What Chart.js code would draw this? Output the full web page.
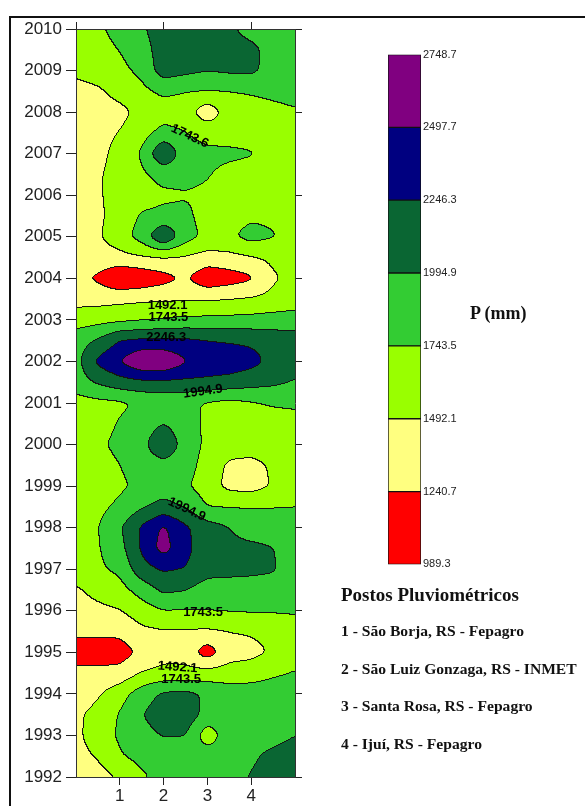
<html>
<head>
<script src="https://cdn.jsdelivr.net/npm/chart.js@4.4.0/dist/chart.umd.min.js"></script>
<style>
    body {
        margin: 0px;
        background: #ffffff;
        width: 585px;
        height: 806px;
        overflow: hidden;
        position: relative;
    }

    #main {
        position: absolute;
        left: 0px;
        top: 0px;
    }

    #scale {
        position: absolute;
        left: 388px;
        top: 46px;
    }

    .frame {
        position: absolute;
        left: 9px;
        top: 16px;
        width: 640px;
        height: 840px;
        border-left: 2px solid #111;
        border-top: 2px solid #111;
    }

    .txt {
        position: absolute;
        font-family: 'Liberation Serif', 'Times New Roman', serif;
        font-weight: bold;
        color: #111;
        white-space: nowrap;
        line-height: 1;
    }
</style>
</head>
<body>
<canvas id="main" width="585" height="806"></canvas>
<canvas id="scale" width="80" height="527"></canvas>
<div class="frame"></div>
<div id="legend"></div>
<script>
// station axis (x) and year axis (y)
const stationTicks = [1, 2, 3, 4]
const topTicks = [0, 2, 4]
const yearTicks = [1992, 1993, 1994, 1995, 1996, 1997, 1998, 1999, 2000, 2001, 2002, 2003, 2004, 2005, 2006, 2007, 2008, 2009, 2010]
const evenYearTicks = [1992, 1994, 1996, 1998, 2000, 2002, 2004, 2006, 2008, 2010]
const stationNames = ['São Borja, RS - Fepagro', 'São Luiz Gonzaga, RS - INMET', 'Santa Rosa, RS - Fepagro', 'Ijuí, RS - Fepagro']

// contour classes (mm)
const levels = [989.3, 1240.7, 1492.1, 1743.5, 1994.9, 2246.3, 2497.7, 2748.7]
const bandColors = ['#FF0000', '#FFFF80', '#99FF00', '#33CC33', '#0A6633', '#000080', '#800080']

// grid: columns at gridX, rows at gridYears (top to bottom)
const gridX = [0, 0.5, 1, 1.5, 2, 2.5, 3, 3.5, 4, 4.5, 5]
const gridYears = [2010, 2009.5, 2009, 2008.5, 2008, 2007.5, 2007, 2006.5, 2006, 2005.5, 2005, 2004.5, 2004, 2003.5, 2003, 2002.5, 2002, 2001.5, 2001,
    2000.5, 2000, 1999.5, 1999, 1998.5, 1998, 1997.5, 1997, 1996.5, 1996, 1995.5, 1995, 1994.5, 1994, 1993.5, 1993, 1992.5, 1992]
const precip = [
    [1600, 1700, 1830, 1960, 2120, 2130, 2120, 2040, 1900, 1869, 1869], // 2010
    [1600, 1650, 1750, 1880, 2120, 2150, 2120, 2100, 2060, 1900, 1869],
    [1550, 1620, 1680, 1800, 2120, 2060, 2010, 2040, 2050, 1900, 1850], // 2009
    [1400, 1450, 1580, 1680, 1800, 1755, 1743, 1745, 1770, 1800, 1830],
    [1350, 1380, 1420, 1560, 1620, 1600, 1330, 1600, 1640, 1680, 1720], // 2008
    [1380, 1420, 1500, 1640, 1830, 1750, 1650, 1640, 1640, 1650, 1650],
    [1400, 1430, 1560, 1770, 2250, 1850, 1800, 1790, 1760, 1700, 1680], // 2007
    [1420, 1470, 1560, 1700, 1830, 1820, 1760, 1680, 1650, 1650, 1650],
    [1420, 1470, 1560, 1640, 1700, 1725, 1700, 1650, 1640, 1640, 1640], // 2006
    [1420, 1450, 1580, 1770, 1800, 1800, 1650, 1650, 1700, 1700, 1650],
    [1400, 1460, 1620, 1850, 2250, 1850, 1680, 1700, 1830, 1760, 1680], // 2005
    [1380, 1400, 1420, 1470, 1500, 1470, 1400, 1420, 1480, 1540, 1580],
    [1300, 1200, 1000, 1050, 1150, 1270, 1050, 1120, 1200, 1460, 1560], // 2004
    [1400, 1400, 1420, 1440, 1450, 1460, 1460, 1480, 1510, 1560, 1600],
    [1620, 1650, 1680, 1720, 1760, 1790, 1800, 1810, 1820, 1840, 1860], // 2003
    [1880, 2020, 2250, 2290, 2290, 2290, 2250, 2220, 2200, 2150, 2100],
    [1900, 2300, 2500, 2750, 2750, 2520, 2420, 2400, 2330, 2180, 2080], // 2002
    [1870, 2030, 2150, 2200, 2210, 2200, 2190, 2160, 2100, 2050, 1980],
    [1650, 1680, 1700, 1780, 1800, 1800, 1720, 1680, 1720, 1770, 1790], // 2001
    [1620, 1650, 1760, 1850, 1990, 1850, 1700, 1650, 1640, 1640, 1650],
    [1620, 1700, 1800, 1900, 2250, 1870, 1700, 1620, 1600, 1600, 1620], // 2000
    [1620, 1650, 1740, 1850, 1900, 1850, 1650, 1450, 1430, 1520, 1620],
    [1620, 1640, 1700, 1800, 1870, 1780, 1620, 1420, 1390, 1510, 1630], // 1999
    [1620, 1680, 1790, 1960, 2080, 1980, 1740, 1730, 1730, 1735, 1740],
    [1620, 1730, 1960, 2280, 2540, 2290, 2100, 2000, 1880, 1870, 1870], // 1998
    [1620, 1720, 1900, 2280, 2600, 2320, 2100, 2050, 2050, 2000, 1900],
    [1620, 1700, 1800, 2150, 2280, 2240, 2100, 2080, 2060, 2020, 1880], // 1997
    [1460, 1560, 1650, 1850, 2050, 2010, 1870, 1870, 1870, 1880, 1870],
    [1400, 1440, 1480, 1620, 1740, 1735, 1745, 1760, 1770, 1770, 1780], // 1996
    [1300, 1300, 1300, 1440, 1470, 1470, 1460, 1495, 1520, 1560, 1600],
    [1120, 1120, 1120, 1290, 1400, 1380, 1100, 1380, 1420, 1520, 1600], // 1995
    [1300, 1300, 1320, 1500, 1560, 1570, 1580, 1600, 1620, 1700, 1760],
    [1380, 1460, 1640, 1870, 2030, 2060, 1960, 1870, 1870, 1880, 1880], // 1994
    [1450, 1560, 1760, 1980, 2150, 2170, 1900, 1870, 1870, 1870, 1870],
    [1440, 1600, 1780, 1900, 2010, 2000, 1600, 1870, 1880, 1900, 1990], // 1993
    [1420, 1510, 1720, 1820, 1869, 1869, 1869, 1869, 1950, 2060, 2120],
    [1380, 1400, 1510, 1700, 1830, 1869, 1869, 1900, 2010, 2120, 2150]  // 1992
]

// contour labels (station, year, angle)
const contourLabels = [
    { text: '1743.6', x: 2.6, y: 2007.42, rot: 25 },
    { text: '1492.1', x: 2.09, y: 2003.35, rot: 0 },
    { text: '1743.5', x: 2.11, y: 2003.07, rot: 0 },
    { text: '2246.3', x: 2.06, y: 2002.58, rot: 0 },
    { text: '1994.9', x: 2.9, y: 2001.28, rot: -8 },
    { text: '1994.9', x: 2.53, y: 1998.44, rot: 25 },
    { text: '1743.5', x: 2.9, y: 1995.96, rot: 0 },
    { text: '1492.1', x: 2.32, y: 1994.64, rot: 4 },
    { text: '1743.5', x: 2.4, y: 1994.36, rot: 0 }
]

const tickFont = "'Liberation Sans', Arial, sans-serif"

function hexRgb(h) {
    return [parseInt(h.slice(1, 3), 16), parseInt(h.slice(3, 5), 16), parseInt(h.slice(5, 7), 16)]
}

function boxBlur(src, w, h, r) {
    const tmp = new Float32Array(w * h)
    const out = new Float32Array(w * h)
    for (let j = 0; j < h; j++) {
        for (let i = 0; i < w; i++) {
            let s = 0
            for (let k = -r; k <= r; k++) {
                const ii = Math.min(w - 1, Math.max(0, i + k))
                s += src[j * w + ii]
            }
            tmp[j * w + i] = s / (2 * r + 1)
        }
    }
    for (let j = 0; j < h; j++) {
        for (let i = 0; i < w; i++) {
            let s = 0
            for (let k = -r; k <= r; k++) {
                const jj = Math.min(h - 1, Math.max(0, j + k))
                s += tmp[jj * w + i]
            }
            out[j * w + i] = s / (2 * r + 1)
        }
    }
    return out
}

// filled contour field drawn under the axes
const fieldPlugin = {
    id: 'field',
    beforeDraw(chart) {
        const { ctx, chartArea: a, scales } = chart
        const sx = scales.x
        const sy = scales.y
        const left = Math.round(a.left)
        const top = Math.round(a.top)
        const w = Math.round(a.right) - left
        const h = Math.round(a.bottom) - top
        const nx = gridX.length
        const ny = gridYears.length
        const dx = gridX[1] - gridX[0]
        const dy = gridYears[0] - gridYears[1]

        let v = new Float32Array(w * h)
        for (let j = 0; j < h; j++) {
            const yr = sy.getValueForPixel(top + j + 0.5)
            const fy = Math.max(0, Math.min(ny - 1.0001, (gridYears[0] - yr) / dy))
            const j0 = Math.floor(fy)
            const ty = fy - j0
            const r0 = precip[j0]
            const r1 = precip[j0 + 1]
            for (let i = 0; i < w; i++) {
                const xv = sx.getValueForPixel(left + i + 0.5)
                const fx = Math.max(0, Math.min(nx - 1.0001, (xv - gridX[0]) / dx))
                const i0 = Math.floor(fx)
                const tx = fx - i0
                const a0 = r0[i0] + (r0[i0 + 1] - r0[i0]) * tx
                const a1 = r1[i0] + (r1[i0 + 1] - r1[i0]) * tx
                v[j * w + i] = a0 + (a1 - a0) * ty
            }
        }
        v = boxBlur(v, w, h, 3)
        v = boxBlur(v, w, h, 3)

        const band = new Uint8Array(w * h)
        for (let k = 0; k < w * h; k++) {
            let b = 0
            while (b < bandColors.length - 1 && v[k] >= levels[b + 1]) b++
            band[k] = b
        }

        const rgb = bandColors.map(hexRgb)
        const off = document.createElement('canvas')
        off.width = w
        off.height = h
        const octx = off.getContext('2d')
        const img = octx.createImageData(w, h)
        for (let j = 0; j < h; j++) {
            for (let i = 0; i < w; i++) {
                const k = j * w + i
                let c = rgb[band[k]]
                const edge = (i < w - 1 && band[k + 1] !== band[k]) || (j < h - 1 && band[k + w] !== band[k])
                if (edge) c = [20, 20, 20]
                img.data[k * 4] = c[0]
                img.data[k * 4 + 1] = c[1]
                img.data[k * 4 + 2] = c[2]
                img.data[k * 4 + 3] = 255
            }
        }
        octx.putImageData(img, 0, 0)
        ctx.drawImage(off, left, top)

        // contour labels
        ctx.save()
        ctx.font = "bold 13px 'Liberation Sans', Arial, sans-serif"
        ctx.fillStyle = '#000'
        ctx.textAlign = 'center'
        ctx.textBaseline = 'middle'
        contourLabels.forEach((l) => {
            ctx.save()
            ctx.translate(sx.getPixelForValue(l.x), sy.getPixelForValue(l.y))
            ctx.rotate((l.rot * Math.PI) / 180)
            ctx.fillText(l.text, 0, 0)
            ctx.restore()
        })
        ctx.restore()
    },
}

const axisColor = '#222'

new Chart(document.getElementById('main'), {
    type: 'scatter',
    data: { datasets: [{ data: [], pointRadius: 0 }] },
    plugins: [fieldPlugin],
    options: {
        responsive: false,
        animation: false,
        events: [],
        layout: { padding: { left: 0, top: 0, right: 585 - 295 - 8, bottom: 0 } },
        plugins: { legend: { display: false }, tooltip: { enabled: false } },
        scales: {
            x: {
                type: 'linear',
                position: 'bottom',
                min: 0,
                max: 5,
                afterBuildTicks: (s) => { s.ticks = stationTicks.map((v) => ({ value: v })) },
                afterFit: (s) => { s.height = 29 },
                ticks: { callback: (v) => String(v), font: { family: tickFont, size: 17 }, color: axisColor, padding: 1, maxRotation: 0, autoSkip: false },
                grid: { drawOnChartArea: false, tickLength: 8, color: axisColor },
                border: { color: '#333' },
            },
            x2: {
                type: 'linear',
                position: 'top',
                min: 0,
                max: 5,
                afterBuildTicks: (s) => { s.ticks = topTicks.map((v) => ({ value: v })) },
                afterFit: (s) => { s.height = 29 },
                ticks: { display: false },
                grid: { drawOnChartArea: false, tickLength: 7, color: axisColor },
                border: { color: '#333' },
            },
            y: {
                type: 'linear',
                position: 'left',
                min: 1992,
                max: 2010,
                afterBuildTicks: (s) => { s.ticks = yearTicks.map((v) => ({ value: v })) },
                afterFit: (s) => { s.width = 76 },
                ticks: { callback: (v) => String(v), font: { family: tickFont, size: 17 }, color: axisColor, padding: 4, autoSkip: false },
                grid: { drawOnChartArea: false, tickLength: 10, color: axisColor },
                border: { color: '#333' },
            },
            y2: {
                type: 'linear',
                position: 'right',
                min: 1992,
                max: 2010,
                afterBuildTicks: (s) => { s.ticks = evenYearTicks.map((v) => ({ value: v })) },
                afterFit: (s) => { s.width = 8 },
                ticks: { display: false },
                grid: { drawOnChartArea: false, tickLength: 7, color: axisColor },
                border: { color: '#333' },
            },
        },
    },
})

// colour scale bar
new Chart(document.getElementById('scale'), {
    type: 'bar',
    data: {
        labels: ['P'],
        datasets: bandColors.map((c, i) => ({
            data: [[levels[i], levels[i + 1]]],
            backgroundColor: c,
            borderColor: '#111',
            borderWidth: 1,
            borderSkipped: false,
            barPercentage: 1,
            categoryPercentage: 1,
            grouped: false,
        })),
    },
    options: {
        responsive: false,
        animation: false,
        events: [],
        layout: { padding: { left: 0, top: 7, right: 0, bottom: 7 } },
        plugins: { legend: { display: false }, tooltip: { enabled: false } },
        scales: {
            x: { display: false },
            y: {
                position: 'right',
                min: levels[0],
                max: levels[levels.length - 1],
                afterBuildTicks: (s) => { s.ticks = levels.map((v) => ({ value: v })) },
                afterFit: (s) => { s.width = 47 },
                ticks: { callback: (v) => v.toFixed(1), font: { family: "'Liberation Sans', Arial, sans-serif", size: 11 }, color: '#222', padding: 2, autoSkip: false },
                grid: { display: false, drawTicks: false, tickLength: 0 },
                border: { display: false },
            },
        },
    },
})

// legend texts
const legend = document.getElementById('legend')
function addText(text, left, top, size) {
    const d = document.createElement('div')
    d.className = 'txt'
    d.textContent = text
    d.style.left = left + 'px'
    d.style.top = top + 'px'
    d.style.fontSize = size + 'px'
    legend.appendChild(d)
}
addText('P (mm)', 470, 304, 18)
addText('Postos Pluviométricos', 341, 585, 19)
stationNames.forEach((n, i) => addText(stationTicks[i] + ' - ' + n, 341, 623 + i * 37.5, 15.6))
</script>
</body>
</html>
